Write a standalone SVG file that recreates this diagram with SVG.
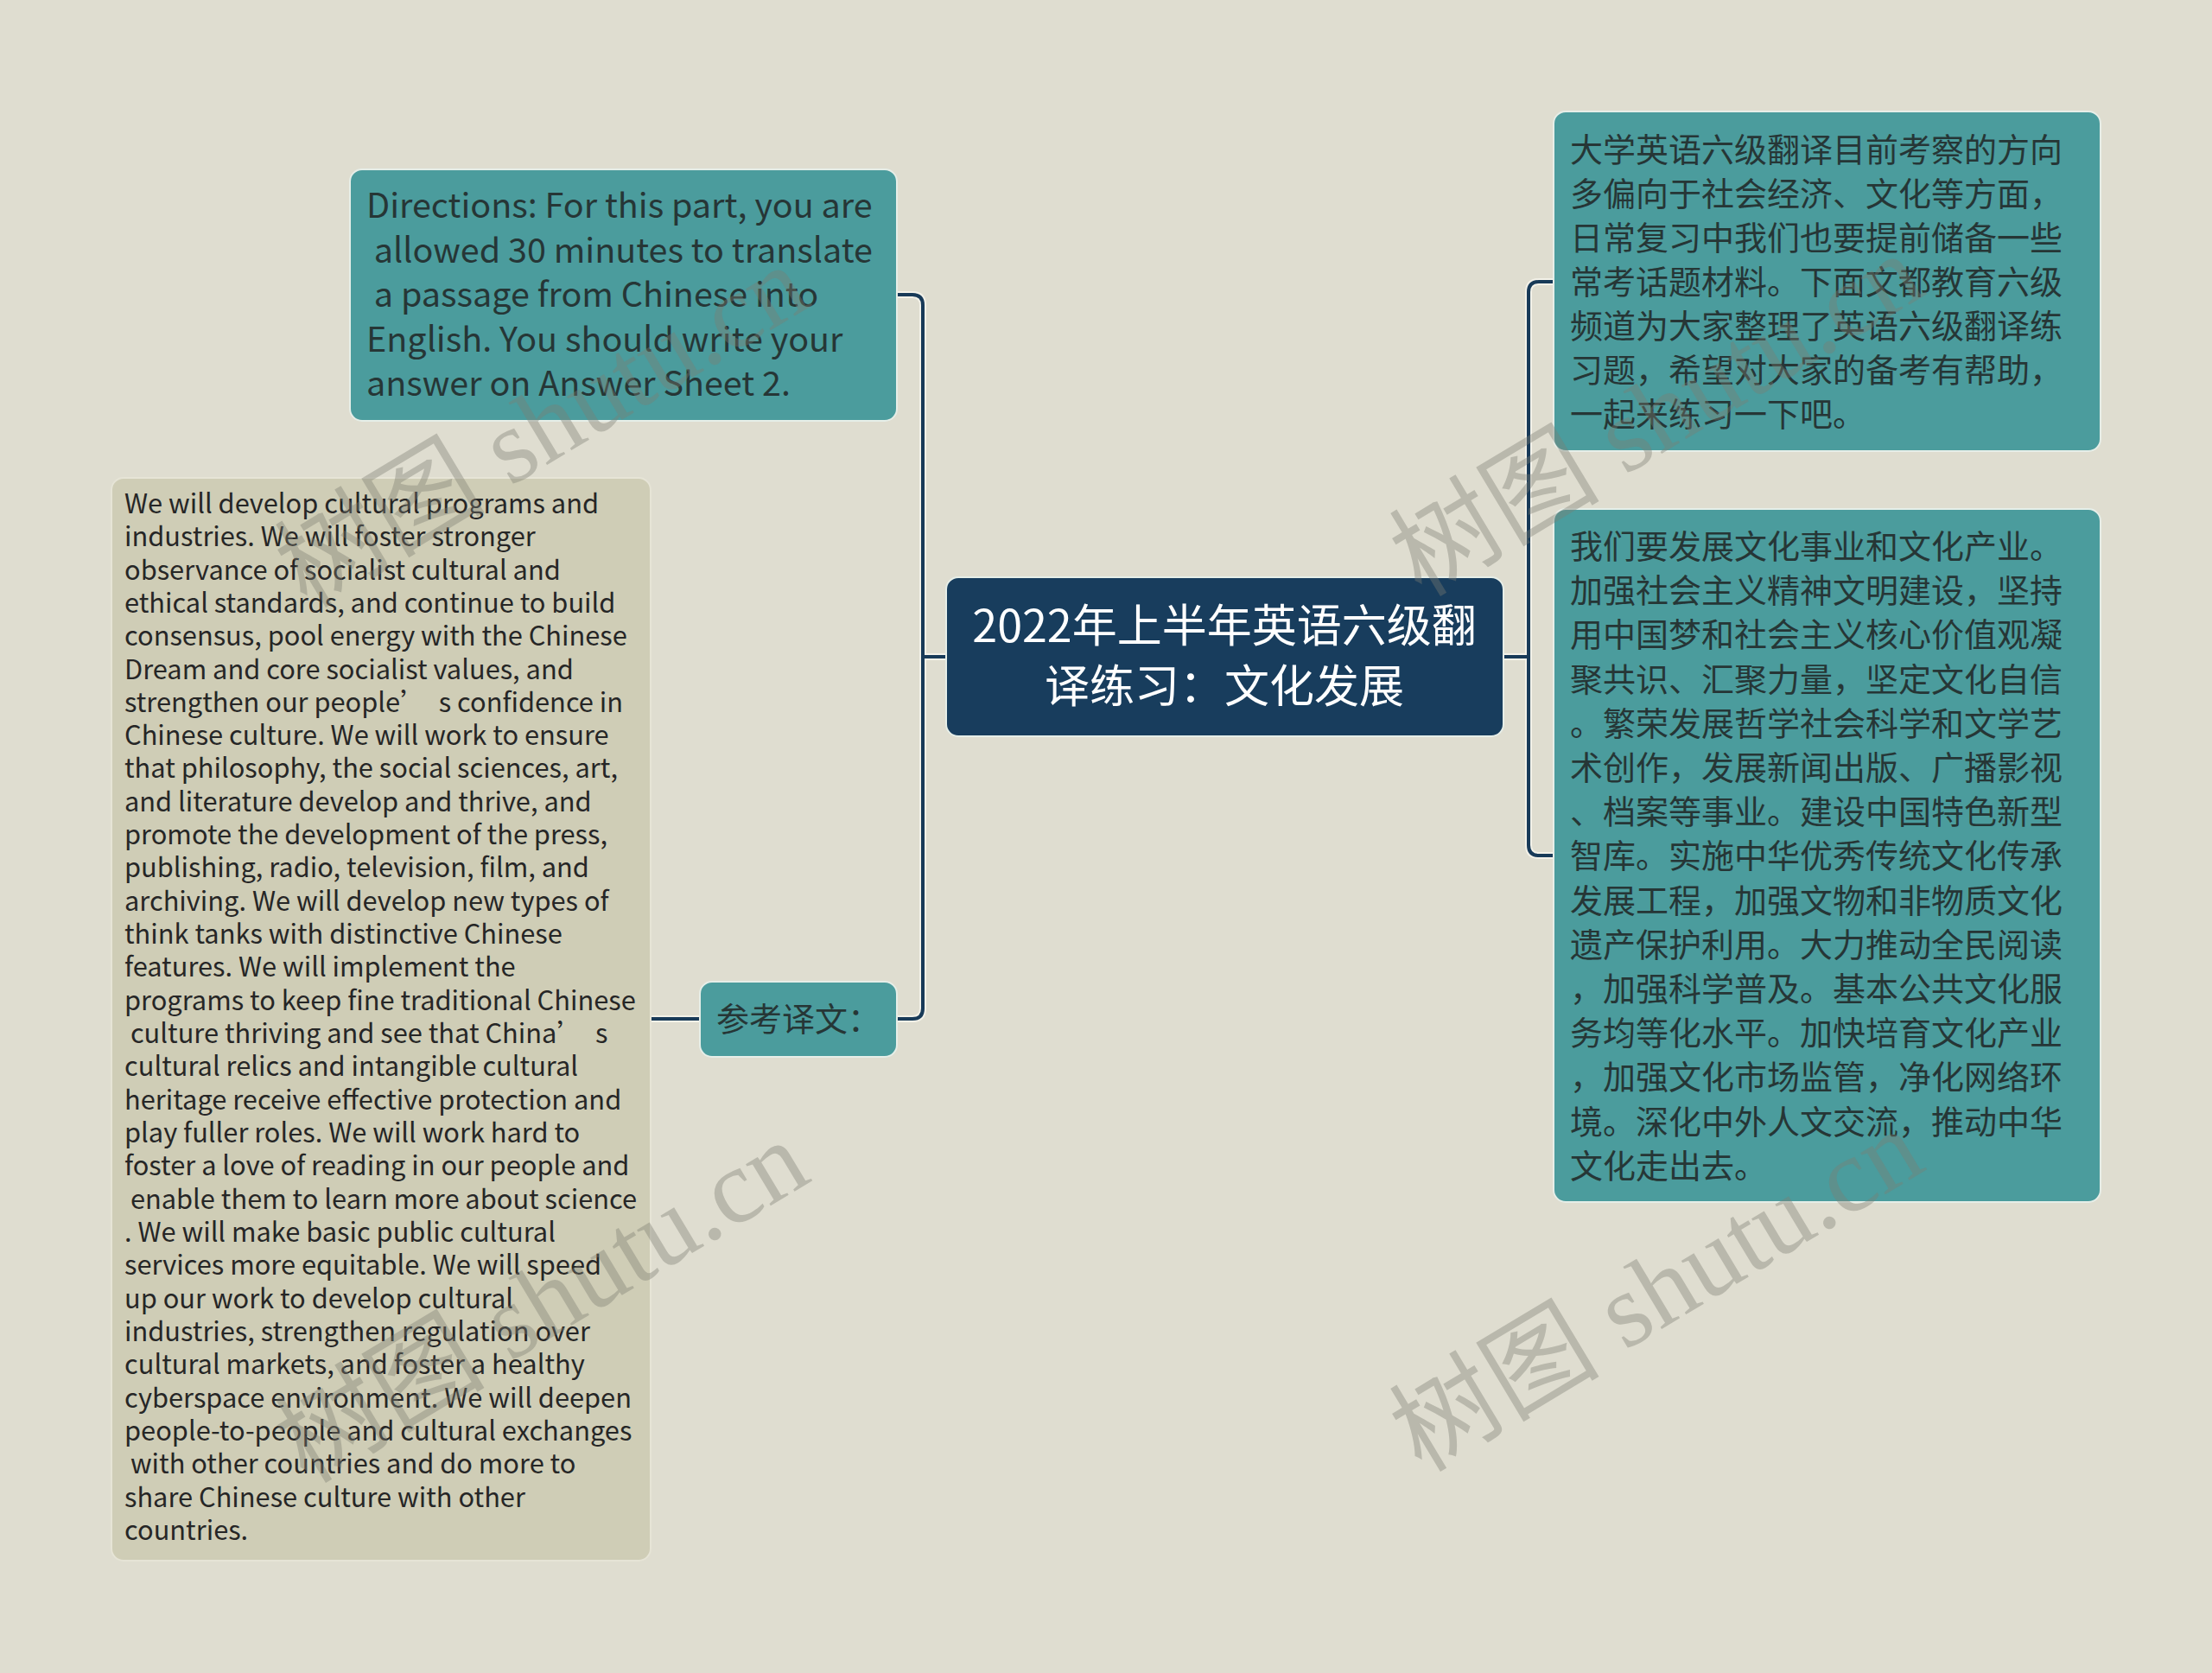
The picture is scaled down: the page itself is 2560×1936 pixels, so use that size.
<svg xmlns="http://www.w3.org/2000/svg" width="2560" height="1936" viewBox="0 0 2560 1936">
<style>
.bg{fill:#dfddd0}
.teal{fill:#4b9c9d;stroke:#e6eee8;stroke-width:2}
.dark{fill:#183d5d;stroke:#e6eee8;stroke-width:2}
.olive{fill:#cfcdb6;stroke:#e6e4d6;stroke-width:2}
.t{font-family:"Noto Sans CJK SC","Noto Sans",sans-serif;fill:#263636;white-space:pre}
.cn{font-size:38px}
.en{font-size:39.5px}
.sm{font-size:30.8px;fill:#262626}
.title{font-family:"Noto Sans CJK SC","Noto Sans",sans-serif;font-size:52px;fill:#ffffff;text-anchor:middle}
.halo{fill:none;stroke:#f3f1e8;stroke-width:8;stroke-linecap:round;stroke-linejoin:round}
.line{fill:none;stroke:#183a58;stroke-width:4;stroke-linecap:round;stroke-linejoin:round}
.wm{font-family:"Liberation Serif","Noto Sans CJK SC",serif;font-size:122px;fill:#7d7d72;opacity:0.38}
</style>
<rect class="bg" x="0" y="0" width="2560" height="1936"/>

<g id="connectors">
  <path class="halo" d="M1095,760 H1068 M1038,341 H1056 Q1068,341 1068,353 V1167 Q1068,1179 1056,1179 H1038 M810,1179 H753 M1740,760 H1769 M1798,326 H1781 Q1769,326 1769,338 V978 Q1769,990 1781,990 H1798"/>
  <path class="line" d="M1095,760 H1068 M1038,341 H1056 Q1068,341 1068,353 V1167 Q1068,1179 1056,1179 H1038 M810,1179 H753 M1740,760 H1769 M1798,326 H1781 Q1769,326 1769,338 V978 Q1769,990 1781,990 H1798"/>
</g>

<g id="center">
  <rect class="dark" x="1095" y="668" width="645" height="184" rx="14"/>
  <text class="title" x="1417" y="743">2022年上半年英语六级翻</text>
  <text class="title" x="1417" y="813">译练习：文化发展</text>
</g>

<g id="directions">
  <rect class="teal" x="405" y="196" width="633" height="291" rx="14"/>
  <text class="t en" x="424" y="252">Directions: For this part, you are</text>
  <text class="t en" x="424" y="304"> allowed 30 minutes to translate</text>
  <text class="t en" x="424" y="355"> a passage from Chinese into</text>
  <text class="t en" x="424" y="407">English. You should write your</text>
  <text class="t en" x="424" y="458">answer on Answer Sheet 2.</text>
</g>

<g id="reference-label">
  <rect class="teal" x="810" y="1136" width="228" height="87" rx="14"/>
  <text class="t cn" x="829" y="1193">参考译文：</text>
</g>

<g id="english">
  <rect class="olive" x="129" y="553" width="624" height="1253" rx="14"/>
  <text class="t sm" x="144" y="594">We will develop cultural programs and</text>
  <text class="t sm" x="144" y="632">industries. We will foster stronger</text>
  <text class="t sm" x="144" y="671">observance of socialist cultural and</text>
  <text class="t sm" x="144" y="709">ethical standards, and continue to build</text>
  <text class="t sm" x="144" y="747">consensus, pool energy with the Chinese</text>
  <text class="t sm" x="144" y="786">Dream and core socialist values, and</text>
  <text class="t sm" x="144" y="824">strengthen our people’  s confidence in</text>
  <text class="t sm" x="144" y="862">Chinese culture. We will work to ensure</text>
  <text class="t sm" x="144" y="900">that philosophy, the social sciences, art,</text>
  <text class="t sm" x="144" y="939">and literature develop and thrive, and</text>
  <text class="t sm" x="144" y="977">promote the development of the press,</text>
  <text class="t sm" x="144" y="1015">publishing, radio, television, film, and</text>
  <text class="t sm" x="144" y="1054">archiving. We will develop new types of</text>
  <text class="t sm" x="144" y="1092">think tanks with distinctive Chinese</text>
  <text class="t sm" x="144" y="1130">features. We will implement the</text>
  <text class="t sm" x="144" y="1169">programs to keep fine traditional Chinese</text>
  <text class="t sm" x="144" y="1207"> culture thriving and see that China’  s</text>
  <text class="t sm" x="144" y="1245">cultural relics and intangible cultural</text>
  <text class="t sm" x="144" y="1284">heritage receive effective protection and</text>
  <text class="t sm" x="144" y="1322">play fuller roles. We will work hard to</text>
  <text class="t sm" x="144" y="1360">foster a love of reading in our people and</text>
  <text class="t sm" x="144" y="1399"> enable them to learn more about science</text>
  <text class="t sm" x="144" y="1437">. We will make basic public cultural</text>
  <text class="t sm" x="144" y="1475">services more equitable. We will speed</text>
  <text class="t sm" x="144" y="1514">up our work to develop cultural</text>
  <text class="t sm" x="144" y="1552">industries, strengthen regulation over</text>
  <text class="t sm" x="144" y="1590">cultural markets, and foster a healthy</text>
  <text class="t sm" x="144" y="1629">cyberspace environment. We will deepen</text>
  <text class="t sm" x="144" y="1667">people-to-people and cultural exchanges</text>
  <text class="t sm" x="144" y="1705"> with other countries and do more to</text>
  <text class="t sm" x="144" y="1744">share Chinese culture with other</text>
  <text class="t sm" x="144" y="1782">countries.</text>
</g>

<g id="intro">
  <rect class="teal" x="1798" y="129" width="633" height="393" rx="14"/>
  <text class="t cn" x="1817" y="187">大学英语六级翻译目前考察的方向</text>
  <text class="t cn" x="1817" y="238">多偏向于社会经济、文化等方面，</text>
  <text class="t cn" x="1817" y="289">日常复习中我们也要提前储备一些</text>
  <text class="t cn" x="1817" y="340">常考话题材料。下面文都教育六级</text>
  <text class="t cn" x="1817" y="391">频道为大家整理了英语六级翻译练</text>
  <text class="t cn" x="1817" y="442">习题，希望对大家的备考有帮助，</text>
  <text class="t cn" x="1817" y="493">一起来练习一下吧。</text>
</g>

<g id="chinese-passage">
  <rect class="teal" x="1798" y="589" width="633" height="802" rx="14"/>
  <text class="t cn" x="1817" y="646">我们要发展文化事业和文化产业。</text>
  <text class="t cn" x="1817" y="697">加强社会主义精神文明建设，坚持</text>
  <text class="t cn" x="1817" y="748">用中国梦和社会主义核心价值观凝</text>
  <text class="t cn" x="1817" y="800">聚共识、汇聚力量，坚定文化自信</text>
  <text class="t cn" x="1817" y="851">。繁荣发展哲学社会科学和文学艺</text>
  <text class="t cn" x="1817" y="902">术创作，发展新闻出版、广播影视</text>
  <text class="t cn" x="1817" y="953">、档案等事业。建设中国特色新型</text>
  <text class="t cn" x="1817" y="1004">智库。实施中华优秀传统文化传承</text>
  <text class="t cn" x="1817" y="1056">发展工程，加强文物和非物质文化</text>
  <text class="t cn" x="1817" y="1107">遗产保护利用。大力推动全民阅读</text>
  <text class="t cn" x="1817" y="1158">，加强科学普及。基本公共文化服</text>
  <text class="t cn" x="1817" y="1209">务均等化水平。加快培育文化产业</text>
  <text class="t cn" x="1817" y="1260">，加强文化市场监管，净化网络环</text>
  <text class="t cn" x="1817" y="1312">境。深化中外人文交流，推动中华</text>
  <text class="t cn" x="1817" y="1363">文化走出去。</text>
</g>

<g id="watermarks">
  <text class="wm" transform="translate(355,705) rotate(-31)">树图 shutu.cn</text>
  <text class="wm" transform="translate(1645,692) rotate(-31)">树图 shutu.cn</text>
  <text class="wm" transform="translate(355,1718) rotate(-31)">树图 shutu.cn</text>
  <text class="wm" transform="translate(1645,1705) rotate(-31)">树图 shutu.cn</text>
</g>
</svg>
